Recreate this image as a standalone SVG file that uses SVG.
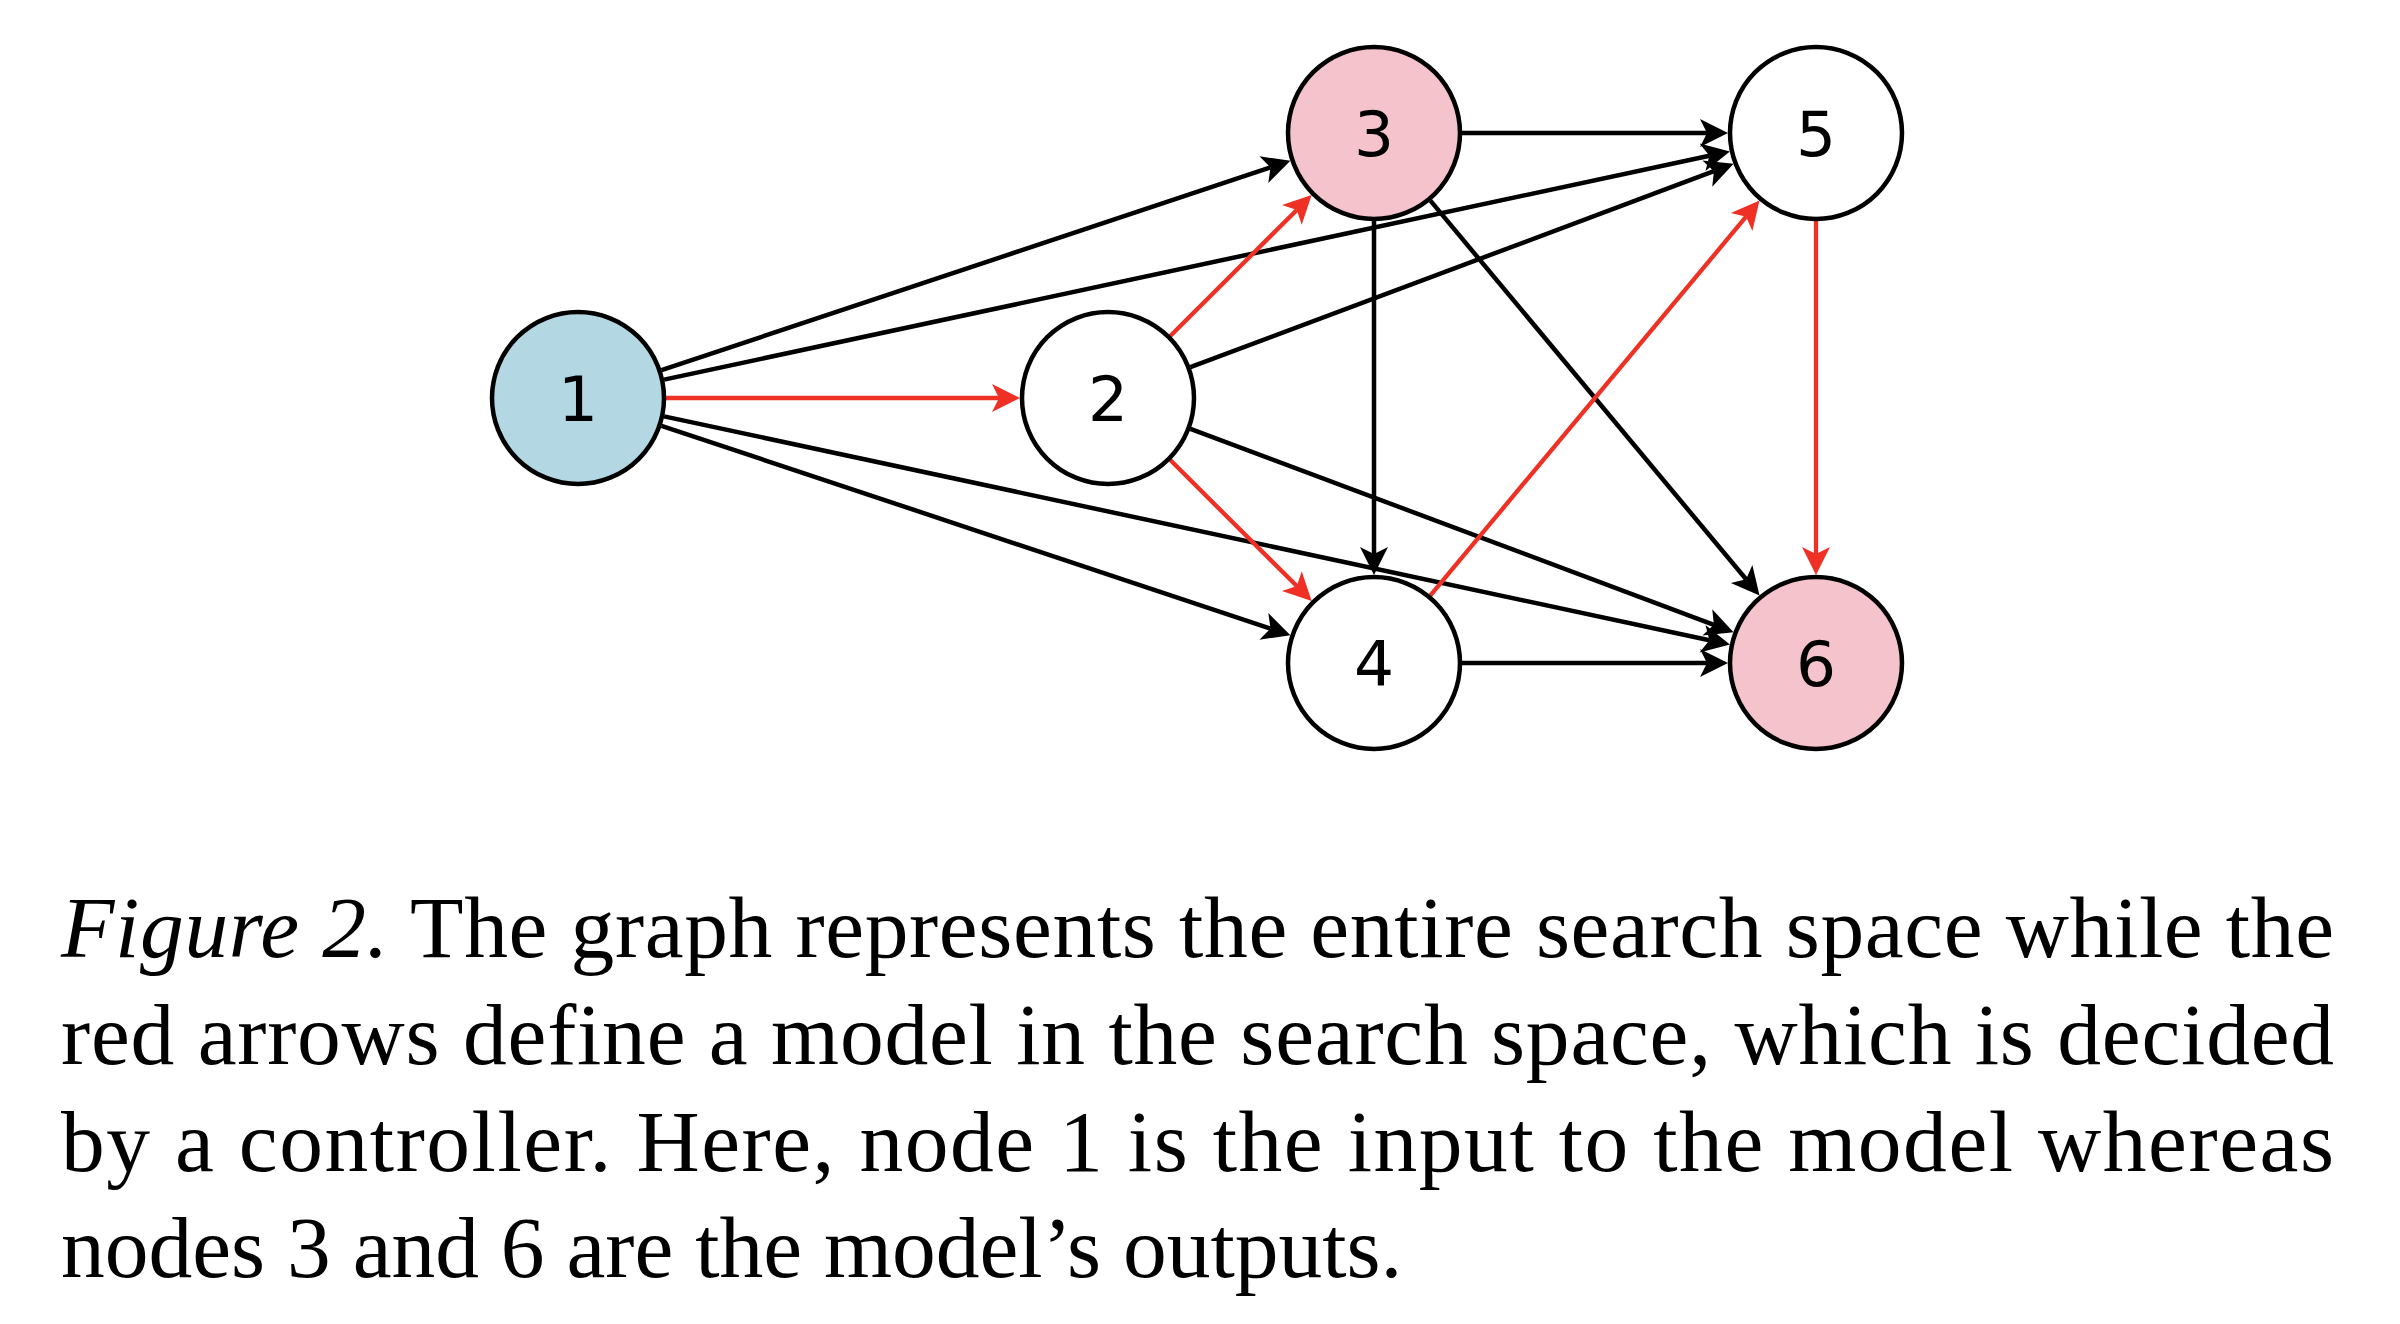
<svg xmlns="http://www.w3.org/2000/svg" width="2400" height="1324" viewBox="0 0 2400 1324">
<style>
.n{stroke:#000;stroke-width:4.5}
.lbl{font-family:"DejaVu Sans",sans-serif;font-size:63px;text-anchor:middle;fill:#000}
.e{stroke:#000;stroke-width:4.5;fill:none;marker-end:url(#ab)}
.r{stroke:#ee3124;stroke-width:4.3;fill:none;marker-end:url(#ar)}
.cap{font-family:"Liberation Serif","Times New Roman",serif;font-size:87.5px;fill:#000}
</style>
<defs>
<marker id="ab" viewBox="-30 -16 32 32" refX="-21" refY="0" markerWidth="32" markerHeight="32" markerUnits="userSpaceOnUse" orient="auto">
<path d="M0,0 L-28,-14 L-21,0 L-28,14 Z" fill="#000"/>
</marker>
<marker id="ar" viewBox="-30 -16 32 32" refX="-21" refY="0" markerWidth="32" markerHeight="32" markerUnits="userSpaceOnUse" orient="auto">
<path d="M0,0 L-28,-14 L-21,0 L-28,14 Z" fill="#ee3124"/>
</marker>
</defs>
<rect width="2400" height="1324" fill="#fff"/>
<g id="edges">
<line class="r" x1="666" y1="398" x2="999" y2="398"/>
<line class="e" x1="661.5" y1="370.2" x2="1270.5" y2="167.4"/>
<line class="e" x1="664.1" y1="379.6" x2="1709.4" y2="155.8"/>
<line class="e" x1="661.5" y1="425.8" x2="1270.5" y2="628.6"/>
<line class="e" x1="664.1" y1="416.4" x2="1709.4" y2="640.2"/>
<line class="r" x1="1170.3" y1="335.9" x2="1296.8" y2="209.9"/>
<line class="r" x1="1170.3" y1="460.1" x2="1296.8" y2="586.1"/>
<line class="e" x1="1190.4" y1="367.2" x2="1713.9" y2="171.2"/>
<line class="e" x1="1190.4" y1="428.8" x2="1713.9" y2="624.8"/>
<line class="e" x1="1462" y1="133" x2="1707" y2="133"/>
<line class="e" x1="1374" y1="221" x2="1374" y2="554"/>
<line class="e" x1="1430.4" y1="200.6" x2="1746.1" y2="579.3"/>
<line class="r" x1="1430.4" y1="595.4" x2="1746.1" y2="216.7"/>
<line class="e" x1="1462" y1="663" x2="1707" y2="663"/>
<line class="r" x1="1816" y1="221" x2="1816" y2="554"/>
</g>
<g id="node1"><circle class="n" cx="578" cy="398" r="86" fill="#b3d7e3"/><text class="lbl" x="578" y="421">1</text></g>
<g id="node2"><circle class="n" cx="1108" cy="398" r="86" fill="#fff"/><text class="lbl" x="1108" y="421">2</text></g>
<g id="node3"><circle class="n" cx="1374" cy="133" r="86" fill="#f5c3cb"/><text class="lbl" x="1374" y="156">3</text></g>
<g id="node4"><circle class="n" cx="1374" cy="663" r="86" fill="#fff"/><text class="lbl" x="1374" y="686">4</text></g>
<g id="node5"><circle class="n" cx="1816" cy="133" r="86" fill="#fff"/><text class="lbl" x="1816" y="156">5</text></g>
<g id="node6"><circle class="n" cx="1816" cy="663" r="86" fill="#f5c3cb"/><text class="lbl" x="1816" y="686">6</text></g>
<g id="caption">
<text class="cap" x="61" y="957" textLength="2273" lengthAdjust="spacing"><tspan font-style="italic">Figure 2.</tspan> The graph represents the entire search space while the</text>
<text class="cap" x="61" y="1064" textLength="2273" lengthAdjust="spacing">red arrows define a model in the search space, which is decided</text>
<text class="cap" x="61" y="1171" textLength="2273" lengthAdjust="spacing">by a controller.  Here, node 1 is the input to the model whereas</text>
<text class="cap" x="61" y="1277">nodes 3 and 6 are the model’s outputs.</text>
</g>
</svg>
